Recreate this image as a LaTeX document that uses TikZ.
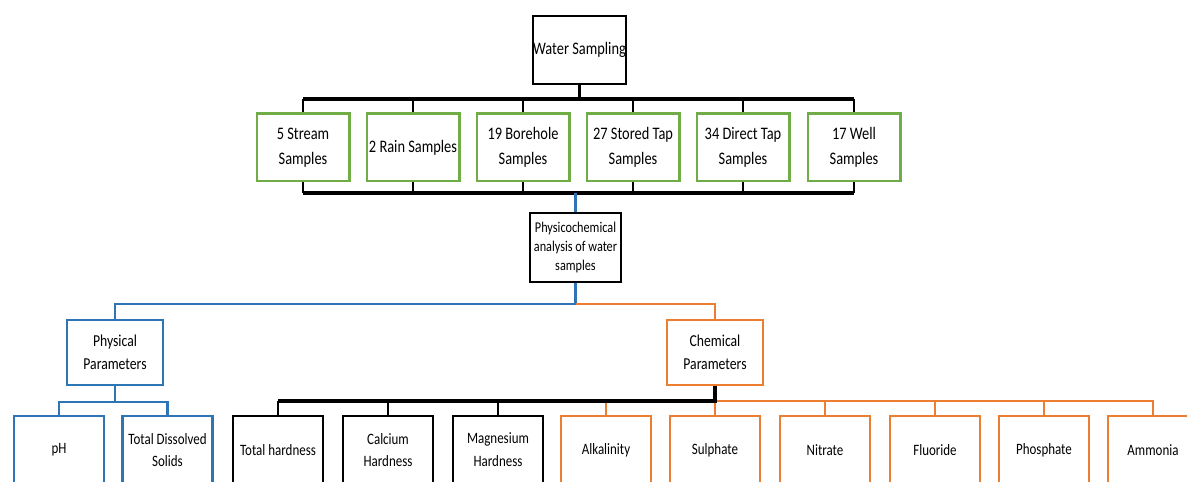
\documentclass[tikz,border=0pt]{standalone}
\usepackage{fontspec}
\setmainfont{Carlito}[FakeStretch=0.82]
\usepackage{tikz}

\definecolor{samplegreen}{HTML}{70AD47}
\definecolor{physblue}{HTML}{2E75B6}
\definecolor{chemorange}{HTML}{ED7D31}

\tikzset{
  box/.style={draw, line width=1.15pt, minimum width=1.86cm, minimum height=1.36cm,
    inner sep=0pt, align=center, font=\fontsize{10}{14}\selectfont},
  sample/.style={box, draw=samplegreen},
  param/.style={box, minimum width=1.92cm, minimum height=1.3cm, font=\fontsize{9.5}{13}\selectfont},
  leaf/.style={box, minimum width=1.8cm, font=\fontsize{9}{13}\selectfont},
  bus/.style={line width=1.8pt},
  link/.style={line width=1.15pt}
}

\begin{document}
\begin{tikzpicture}[x=0.02cm, y=-0.02cm]
    \useasboundingbox (0,0) rectangle (1187,482);
    \clip (0,0) rectangle (1187,482);

    % Top level
    \node[box] (ws) at (579.5,50) {Water Sampling};

    % Sample sources
    \foreach \n/\x/\t in {s1/303/{5 Stream\\Samples}, s2/413/{2 Rain Samples},
        s3/523/{19 Borehole\\Samples}, s4/633/{27 Stored Tap\\Samples},
        s5/743/{34 Direct Tap\\Samples}, s6/854/{17 Well\\Samples}}
        \node[sample] (\n) at (\x,147.5) {\t};

    \node[box, minimum width=1.82cm, minimum height=1.38cm, font=\fontsize{8.5}{10.8}\selectfont]
        (pca) at (575.5,247.5) {Physicochemical\\analysis of water\\samples};

    % Parameter groups
    \node[param, draw=physblue] (phy) at (115,352.5) {Physical\\Parameters};
    \node[param, draw=chemorange] (chem) at (715,352.5) {Chemical\\Parameters};

    % Physical parameters
    \node[leaf, draw=physblue] (ph) at (59,450) {pH};
    \node[leaf, draw=physblue] (tds) at (167.5,450) {Total Dissolved\\Solids};

    % Chemical parameters
    \node[leaf] (th) at (278,450) {Total hardness};
    \node[leaf] (ca) at (388,450) {Calcium\\Hardness};
    \node[leaf] (mg) at (498,450) {Magnesium\\Hardness};
    \foreach \n/\x/\t in {alk/606/Alkalinity, sul/715/Sulphate, nit/825/Nitrate,
        flu/935/Fluoride, pho/1044/Phosphate, amm/1153/Ammonia}
        \node[leaf, draw=chemorange] (\n) at (\x,450) {\t};

    % Connectors
    \coordinate (tb) at (579.5,99);
    \coordinate (bb) at (575.5,193);
    \coordinate (split) at (575.5,304);
    \coordinate (pb) at (115,402);
    \coordinate (cb) at (715,401);

    \draw[bus] (ws.south) -- (tb);
    \foreach \n in {s1,s2,s3,s4,s5,s6} {
        \draw[link] (\n.north) -- (\n.north |- tb);
        \draw[link] (\n.south) -- (\n.south |- bb);
    }
    \draw[bus] (s1.north |- tb) -- (s6.north |- tb);
    \draw[bus] (s1.south |- bb) -- (s6.south |- bb);

    \draw[link, physblue] (bb) -- (pca.north);
    \draw[link, physblue] (pca.south) -- (split) -| (phy.north);
    \draw[link, chemorange] (split) -| (chem.north);

    \draw[link, physblue] (phy.south) -- (pb);
    \draw[link, physblue] (ph.north) |- (pb) -| (tds.north);

    \draw[link, chemorange] (alk.north) |- (cb) -| (amm.north);
    \foreach \n in {sul,nit,flu,pho}
        \draw[link, chemorange] (\n.north) -- (\n.north |- cb);
    \foreach \n in {th,ca,mg}
        \draw[link] (\n.north) -- (\n.north |- cb);
    \draw[bus] (chem.south) -- (cb) -- (th.north |- cb);
\end{tikzpicture}
\end{document}
